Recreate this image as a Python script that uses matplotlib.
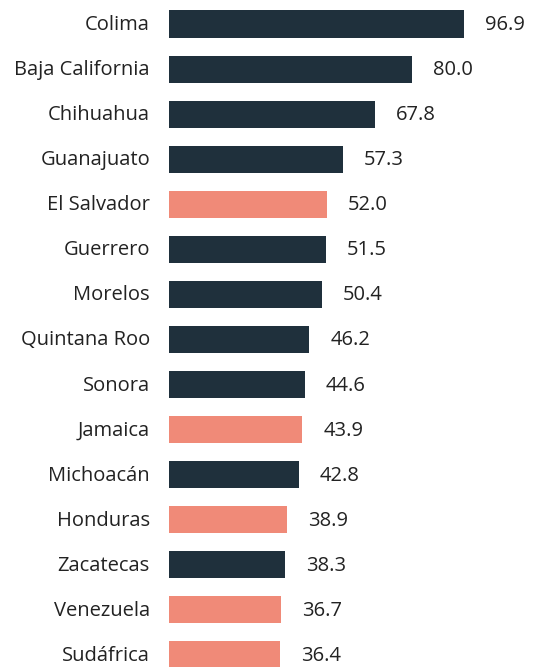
import matplotlib.pyplot as plt

categories = ['Colima', 'Baja California', 'Chihuahua', 'Guanajuato', 'El Salvador', 'Guerrero',
              'Morelos', 'Quintana Roo', 'Sonora', 'Jamaica', 'Michoacán', 'Honduras',
              'Zacatecas', 'Venezuela', 'Sudáfrica']
values = [96.9, 80.0, 67.8, 57.3, 52.0, 51.5, 50.4, 46.2, 44.6, 43.9, 42.8, 38.9, 38.3, 36.7, 36.4]
is_country = [False, False, False, False, True, False, False, False, False, True, False, True,
              False, True, True]

navy = '#1f303c'
salmon = '#f08a78'
colors = [salmon if c else navy for c in is_country]

plt.rcParams['font.family'] = ['Open Sans', 'DejaVu Sans']

W, H = 533, 667
fig = plt.figure(figsize=(W / 100, H / 100), dpi=100)
x0 = 169
ax = fig.add_axes([x0 / W, 0, 1 - x0 / W, 1])
px_per_unit = 3.04
ax.set_xlim(0, (W - x0) / px_per_unit)
step = 45.07
top = 24
ax.set_ylim((H - top) / step, -top / step)

pos = list(range(len(categories)))
ax.barh(pos, values, height=0.6, color=colors)

for i, (name, v) in enumerate(zip(categories, values)):
    ax.annotate(name, (0, i), xytext=(-19, -1), textcoords='offset pixels',
                ha='right', va='center', fontsize=14.5, color='#222222', annotation_clip=False)
    ax.annotate(f'{v:.1f}', (v, i), xytext=(21, -1), textcoords='offset pixels',
                ha='left', va='center', fontsize=14.5, color='#222222', annotation_clip=False)

ax.axis('off')
fig.savefig('out.png', dpi=100)
